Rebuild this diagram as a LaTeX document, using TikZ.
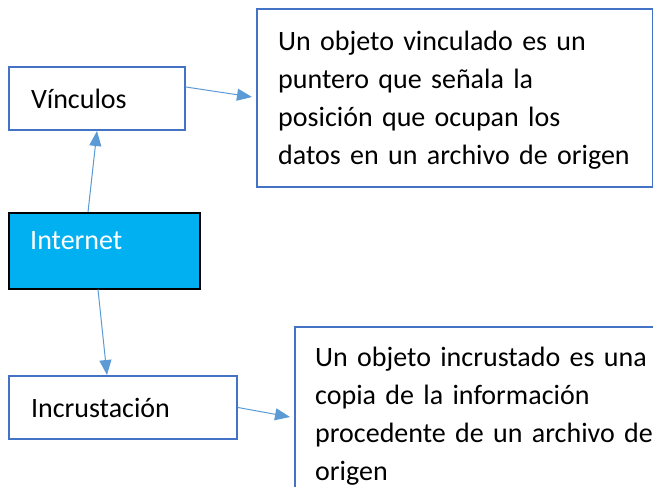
\documentclass[tikz,border=0pt]{standalone}
\usepackage{fontspec}
\setmainfont{Carlito}
\usetikzlibrary{arrows.meta}
\definecolor{boxblue}{HTML}{4472C4}
\definecolor{arrblue}{HTML}{5B9BD5}
\definecolor{netcyan}{HTML}{00B0F0}
\begin{document}
\begin{tikzpicture}[x=1pt,y=1pt,
  font=\fontsize{28}{38}\selectfont,
  bluebox/.style={draw=boxblue,line width=2pt,fill=white,inner sep=0pt,anchor=north west},
  smallbox/.style={bluebox,text width=132pt,inner xsep=22pt,align=left,minimum height=63pt},
  para/.style={anchor=north west,inner sep=0pt,align=left,text width=420pt},
  conn/.style={draw=arrblue,line width=1pt,-{Triangle[length=15pt,width=12pt]}}]
\clip (0,0) rectangle (653,-487);
\useasboundingbox (0,0) rectangle (653,-487);
% boxes
\node[smallbox] (vinc) at (8,-66) {Vínculos};
\node[smallbox,text width=184pt] (incr) at (8,-375) {Incrustación};
\node[draw=black,line width=1.5pt,fill=netcyan,minimum width=191pt,minimum height=76pt,inner sep=0pt,anchor=north west] (inet) at (8,-212) {};
\node[anchor=west,text=white,inner sep=0pt] (inettext) at (30,-241) {Internet};
\node[bluebox,minimum width=396pt,minimum height=178pt] (box1) at (256,-8) {};
\node[para] (box1text) at (278,-31)
  {Un objeto vinculado es un\\puntero que señala la\\posición que ocupan los\\datos en un archivo de origen};
\node[bluebox,minimum width=420pt,minimum height=180pt] (box2) at (294,-326) {};
\node[para] (box2text) at (315,-347)
  {Un objeto incrustado es una\\copia de la información\\procedente de un archivo de\\origen};
% connectors
\draw[conn] ([xshift=80pt]inet.north west) -- ([xshift=89pt]vinc.south west);
\draw[conn] ([yshift=-21pt]vinc.north east) -- ([xshift=-4pt,yshift=-89pt]box1.north west);
\draw[conn] ([xshift=90pt]inet.south west) -- ([xshift=99pt]incr.north west);
\draw[conn] (incr.east) -- ([xshift=-4pt,yshift=-91pt]box2.north west);
\end{tikzpicture}
\end{document}
